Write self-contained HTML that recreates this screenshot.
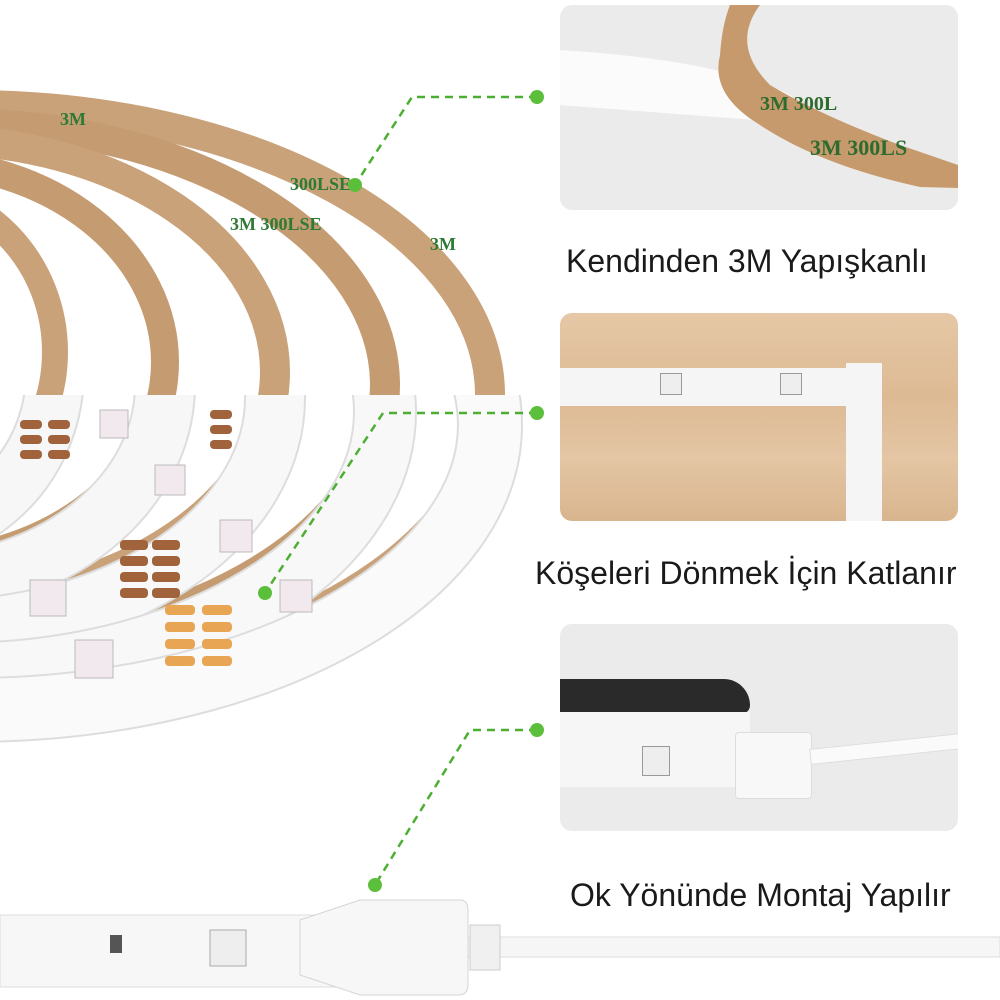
<!DOCTYPE html>
<html><head><meta charset="utf-8"><style>
body{margin:0;width:1000px;height:1000px;background:#fff;position:relative;overflow:hidden;font-family:"Liberation Sans",sans-serif}
.p{position:absolute;left:560px;width:398px;border-radius:12px;overflow:hidden}
.t{position:absolute;font-size:32px;color:#1a1a1a;white-space:nowrap}
</style></head><body>
<svg width="1000" height="1000" style="position:absolute;left:0;top:0">
<defs>
<clipPath id="lo"><rect x="-200" y="395" width="800" height="500"/></clipPath>
</defs>
<g fill="none">
<ellipse cx="-30" cy="395" rx="520" ry="290" stroke="#c9a27a" stroke-width="30"/>
<ellipse cx="-45" cy="385" rx="430" ry="262" stroke="#c59c72" stroke-width="30"/>
<ellipse cx="-65" cy="372" rx="340" ry="232" stroke="#c9a27a" stroke-width="30"/>
<ellipse cx="-85" cy="362" rx="250" ry="200" stroke="#c59c72" stroke-width="28"/>
<ellipse cx="-105" cy="352" rx="160" ry="165" stroke="#c9a27a" stroke-width="26"/>
<g clip-path="url(#lo)">
<ellipse cx="-105" cy="372" rx="160" ry="165" stroke="#ddd" stroke-width="60"/>
<ellipse cx="-105" cy="372" rx="160" ry="165" stroke="#f7f7f7" stroke-width="56"/>
<ellipse cx="-85" cy="385" rx="250" ry="200" stroke="#ddd" stroke-width="62"/>
<ellipse cx="-85" cy="385" rx="250" ry="200" stroke="#f7f7f7" stroke-width="58"/>
<ellipse cx="-65" cy="398" rx="340" ry="232" stroke="#ddd" stroke-width="62"/>
<ellipse cx="-65" cy="398" rx="340" ry="232" stroke="#f8f8f8" stroke-width="58"/>
<ellipse cx="-45" cy="412" rx="430" ry="262" stroke="#ddd" stroke-width="64"/>
<ellipse cx="-45" cy="412" rx="430" ry="262" stroke="#f8f8f8" stroke-width="60"/>
<ellipse cx="-30" cy="425" rx="520" ry="285" stroke="#ddd" stroke-width="66"/>
<ellipse cx="-30" cy="425" rx="520" ry="285" stroke="#fafafa" stroke-width="62"/>
</g>
</g>
<g fill="#2e7a34" font-family="Liberation Serif,serif" font-weight="bold" font-size="18">
<text x="60" y="125">3M</text><text x="290" y="190">300LSE</text><text x="230" y="230">3M 300LSE</text><text x="430" y="250">3M</text>
</g>
<g fill="#a0633b">
<rect x="20" y="420" width="22" height="9" rx="4"/><rect x="48" y="420" width="22" height="9" rx="4"/>
<rect x="20" y="435" width="22" height="9" rx="4"/><rect x="48" y="435" width="22" height="9" rx="4"/>
<rect x="20" y="450" width="22" height="9" rx="4"/><rect x="48" y="450" width="22" height="9" rx="4"/>
<rect x="210" y="410" width="22" height="9" rx="4"/><rect x="210" y="425" width="22" height="9" rx="4"/><rect x="210" y="440" width="22" height="9" rx="4"/>
<rect x="120" y="540" width="28" height="10" rx="4"/><rect x="152" y="540" width="28" height="10" rx="4"/>
<rect x="120" y="556" width="28" height="10" rx="4"/><rect x="152" y="556" width="28" height="10" rx="4"/>
<rect x="120" y="572" width="28" height="10" rx="4"/><rect x="152" y="572" width="28" height="10" rx="4"/>
<rect x="120" y="588" width="28" height="10" rx="4"/><rect x="152" y="588" width="28" height="10" rx="4"/>
</g>
<g fill="#e8a655">
<rect x="165" y="605" width="30" height="10" rx="4"/><rect x="202" y="605" width="30" height="10" rx="4"/>
<rect x="165" y="622" width="30" height="10" rx="4"/><rect x="202" y="622" width="30" height="10" rx="4"/>
<rect x="165" y="639" width="30" height="10" rx="4"/><rect x="202" y="639" width="30" height="10" rx="4"/>
<rect x="165" y="656" width="30" height="10" rx="4"/><rect x="202" y="656" width="30" height="10" rx="4"/>
</g>
<g fill="#f1e9ee" stroke="#bbb">
<rect x="75" y="640" width="38" height="38"/><rect x="30" y="580" width="36" height="36"/>
<rect x="220" y="520" width="32" height="32"/><rect x="155" y="465" width="30" height="30"/>
<rect x="280" y="580" width="32" height="32"/><rect x="100" y="410" width="28" height="28"/>
</g>
<rect x="0" y="915" width="370" height="72" fill="#f7f7f7" stroke="#ddd"/>
<rect x="210" y="930" width="36" height="36" fill="#eee" stroke="#aaa"/>
<rect x="110" y="935" width="12" height="18" fill="#555"/>
<rect x="455" y="937" width="545" height="20" fill="#f6f6f6" stroke="#ddd"/>
<path d="M300 920 L360 900 L460 900 Q468 900 468 910 L468 985 Q468 995 458 995 L360 995 L300 975Z" fill="#f7f7f7" stroke="#d5d5d5"/>
<rect x="470" y="925" width="30" height="45" fill="#f0f0f0" stroke="#ccc"/>
<g stroke="#4caf32" stroke-width="2.5" stroke-dasharray="8 6" fill="none">
<polyline points="537,97 412,97 355,185"/>
<polyline points="537,413 383,413 265,593"/>
<polyline points="537,730 470,730 375,885"/>
</g>
<g fill="#5cbf3c">
<circle cx="537" cy="97" r="7"/><circle cx="355" cy="185" r="7"/>
<circle cx="537" cy="413" r="7"/><circle cx="265" cy="593" r="7"/>
<circle cx="537" cy="730" r="7"/><circle cx="375" cy="885" r="7"/>
</g>
</svg>

<div class="p" style="top:5px;height:205px;background:#ebebeb">
<svg width="398" height="205">
<path d="M0 45 Q160 55 230 90 L260 120 L0 100Z" fill="#fbfbfb"/>
<path d="M170 0 L200 0 Q170 40 210 80 Q260 110 340 140 L398 160 L398 183 L360 182 Q260 160 200 120 Q150 90 160 50 Q162 20 170 0Z" fill="#c69a6c"/>
<text x="200" y="105" fill="#2e6b2e" font-family="Liberation Serif,serif" font-size="20" font-weight="bold">3M 300L</text>
<text x="250" y="150" fill="#2e6b2e" font-family="Liberation Serif,serif" font-size="22" font-weight="bold">3M 300LS</text>
</svg>
</div>
<div class="t" style="left:566px;top:243px">Kendinden 3M Yapışkanlı</div>

<div class="p" style="top:313px;height:208px;background:linear-gradient(180deg,#e6c8a6,#dcba94 40%,#e4c6a4 70%,#d8b58e)">
<div style="position:absolute;left:0;top:55px;width:300px;height:38px;background:#f5f5f5"></div>
<div style="position:absolute;left:286px;top:50px;width:36px;height:158px;background:#f5f5f5"></div>
<div style="position:absolute;left:100px;top:60px;width:20px;height:20px;background:#eee;border:1px solid #999"></div>
<div style="position:absolute;left:220px;top:60px;width:20px;height:20px;background:#eee;border:1px solid #999"></div>
</div>
<div class="t" style="left:535px;top:555px">Köşeleri Dönmek İçin Katlanır</div>

<div class="p" style="top:624px;height:207px;background:#ebebeb">
<div style="position:absolute;left:0;top:55px;width:190px;height:35px;background:#2a2a2a;border-radius:0 60px 20px 0"></div>
<div style="position:absolute;left:0;top:88px;width:190px;height:75px;background:#f6f6f6"></div>
<div style="position:absolute;left:175px;top:108px;width:75px;height:65px;background:#f8f8f8;border:1px solid #ddd;border-radius:4px"></div>
<div style="position:absolute;left:250px;top:125px;width:160px;height:14px;background:#fafafa;border:1px solid #ddd;transform:rotate(-6deg);transform-origin:left"></div>
<div style="position:absolute;left:82px;top:122px;width:26px;height:28px;background:#eee;border:1px solid #999"></div>
</div>
<div class="t" style="left:570px;top:877px">Ok Yönünde Montaj Yapılır</div>
</body></html>
